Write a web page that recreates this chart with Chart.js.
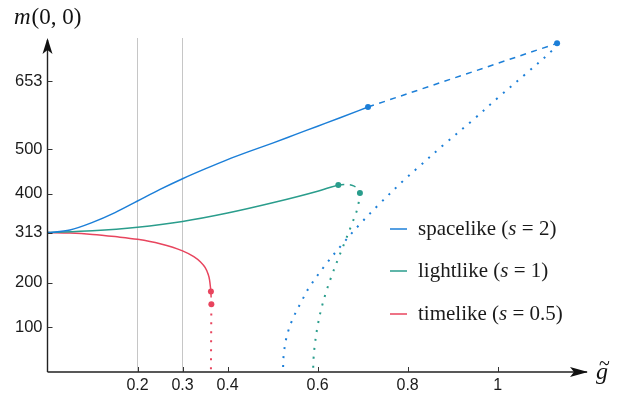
<!DOCTYPE html>
<html>
<head>
<meta charset="utf-8">
<script src="https://cdn.jsdelivr.net/npm/chart.js@4.4.1/dist/chart.umd.min.js"></script>
<style>
  html, body { margin: 0; padding: 0; background: #fff; }
  #wrap { width: 624px; height: 401px; }
</style>
</head>
<body>
<div id="wrap"><canvas id="massChart" width="624" height="401"></canvas></div>
<script>
/* ====== DATA ====== */
const xTicks = [0.2, 0.3, 0.4, 0.6, 0.8, 1];
const yTicks = [100, 200, 313, 400, 500, 653];
const gridAt = [0.2, 0.3];

// spacelike (s = 2)
const spaceSolidX  = [0, 0.05, 0.1, 0.15, 0.2, 0.25, 0.3, 0.35, 0.4, 0.45, 0.5, 0.55, 0.6, 0.65, 0.712];
const spaceSolidY  = [313, 319, 336, 358, 384, 410, 434, 456, 477, 496, 514, 533, 552, 571, 595];
const spaceDashX   = [0.712, 1.132];
const spaceDashY   = [595, 738];
const spaceDotX    = [1.132, 1.122, 1.063, 1.003, 0.943, 0.882, 0.823, 0.794, 0.736, 0.694, 0.655, 0.617, 0.582, 0.563, 0.545, 0.532, 0.525, 0.523];
const spaceDotY    = [738, 723, 670, 618, 564, 512, 459, 433, 376, 332, 287, 240, 191, 156, 120, 82, 42, 0];

// lightlike (s = 1)
const lightSolidX  = [0, 0.1, 0.2, 0.3, 0.4, 0.5, 0.6, 0.646];
const lightSolidY  = [313, 317, 325, 338, 357, 380, 406, 420];
const lightDashX   = [0.646, 0.665, 0.68, 0.69, 0.694];
const lightDashY   = [420, 421, 418, 411, 402];
const lightDotX    = [0.694, 0.689, 0.676, 0.661, 0.646, 0.632, 0.619, 0.608, 0.6, 0.594, 0.591, 0.59];
const lightDotY    = [402, 369, 332, 293, 255, 218, 180, 141, 103, 63, 30, 0];

// timelike (s = 0.5)
const timeSolidX   = [0, 0.05, 0.1, 0.15, 0.2, 0.25, 0.3, 0.325, 0.34, 0.35, 0.356, 0.36, 0.363];
const timeSolidY   = [313, 312, 309, 304, 298, 288, 272, 259, 247, 235, 222, 207, 181];
const timeDashX    = [0.363, 0.364];
const timeDashY    = [181, 152];
const timeDotX     = [0.364, 0.363];
const timeDotY     = [152, 0];

// end-point markers
const spaceMarkX = [0.712, 1.132], spaceMarkY = [595, 738];
const lightMarkX = [0.646, 0.694], lightMarkY = [420, 402];
const timeMarkX  = [0.363, 0.364], timeMarkY  = [181, 152];

const legendLabels = [
    ["spacelike (", "s", " = 2)"],
    ["lightlike (", "s", " = 1)"],
    ["timelike (", "s", " = 0.5)"]
];

/* ====== STYLE ====== */
const BLUE = "#1c7fd8";
const TEAL = "#2a9d8c";
const RED  = "#e8455e";
const DASH = [6, 5.5];
const DOTS = [2, 7];

function pts(xs, ys) {
    return xs.map((x, i) => ({ x: x, y: ys[i] }));
}

function curve(xs, ys, color, dash) {
    const ds = {
        data: pts(xs, ys),
        showLine: true,
        borderColor: color,
        backgroundColor: color,
        borderWidth: dash === DOTS ? 2 : 1.5,
        borderDash: dash || [],
        pointRadius: 0,
        tension: 0.35
    };
    if (!dash) ds.cubicInterpolationMode = "monotone";
    return ds;
}

function marks(xs, ys, color) {
    return {
        data: pts(xs, ys),
        showLine: false,
        pointRadius: 3,
        pointBackgroundColor: color,
        pointBorderWidth: 0
    };
}

/* ====== DECORATIONS: arrows, inward ticks, titles, legend ====== */
const decor = {
    id: "decor",
    afterDatasetsDraw(chart) {
        const c = chart.ctx;
        const a = chart.chartArea;
        const sx = chart.scales.x, sy = chart.scales.y;
        const ox = a.left, oy = a.bottom;
        c.save();

        // axis lines
        c.strokeStyle = "#222";
        c.lineWidth = 1.4;
        c.beginPath();
        c.moveTo(ox, oy); c.lineTo(a.right + 2, oy);
        c.moveTo(ox, oy); c.lineTo(ox, a.top + 2);
        c.stroke();

        // arrow heads (stealth)
        c.fillStyle = "#111";
        const tx = a.right + 3;
        c.beginPath();
        c.moveTo(tx, oy); c.lineTo(tx - 18, oy - 5); c.lineTo(tx - 14, oy); c.lineTo(tx - 18, oy + 5);
        c.closePath(); c.fill();
        const ty = a.top;
        c.beginPath();
        c.moveTo(ox, ty); c.lineTo(ox - 5, ty + 16); c.lineTo(ox, ty + 12); c.lineTo(ox + 5, ty + 16);
        c.closePath(); c.fill();

        // inward tick marks
        c.strokeStyle = "#333";
        c.lineWidth = 1;
        c.beginPath();
        xTicks.forEach(v => {
            const px = Math.round(sx.getPixelForValue(v)) + 0.5;
            c.moveTo(px, oy); c.lineTo(px, oy - 5);
        });
        yTicks.forEach(v => {
            const py = Math.round(sy.getPixelForValue(v)) + 0.5;
            c.moveTo(ox, py); c.lineTo(ox + 5, py);
        });
        c.stroke();

        // axis titles
        c.fillStyle = "#111";
        c.textBaseline = "alphabetic";
        c.textAlign = "left";
        let x = 14;
        c.font = 'italic 23px "Liberation Serif"';
        c.fillText("m", x, 24);
        x += c.measureText("m").width + 1;
        c.font = '23px "Liberation Serif"';
        c.fillText("(0, 0)", x, 24);

        c.font = 'italic 24px "Liberation Serif"';
        c.fillText("g", 596, 379);
        c.font = '20px "Liberation Serif"';
        c.fillText("~", 599, 370);

        // legend
        const colors = [BLUE, TEAL, RED];
        const rows = [229, 271, 314];
        legendLabels.forEach((parts, i) => {
            const y = rows[i];
            c.strokeStyle = colors[i];
            c.lineWidth = 1.5;
            c.beginPath();
            c.moveTo(390, y); c.lineTo(407, y);
            c.stroke();
            let lx = 418;
            c.fillStyle = "#1a1a1a";
            parts.forEach((p, k) => {
                c.font = (k === 1 ? "italic " : "") + '21px "Liberation Serif"';
                c.fillText(p, lx, y + 6);
                lx += c.measureText(p).width;
            });
        });

        c.restore();
    }
};

/* ====== CHART ====== */
window.onload = function () {
    const ctx = document.getElementById("massChart");
    new Chart(ctx, {
        type: "scatter",
        data: {
            datasets: [
                curve(spaceSolidX, spaceSolidY, BLUE),
                curve(spaceDashX, spaceDashY, BLUE, DASH),
                curve(spaceDotX, spaceDotY, BLUE, DOTS),
                curve(lightSolidX, lightSolidY, TEAL),
                curve(lightDashX, lightDashY, TEAL, DASH),
                curve(lightDotX, lightDotY, TEAL, DOTS),
                curve(timeSolidX, timeSolidY, RED),
                curve(timeDashX, timeDashY, RED, DASH),
                curve(timeDotX, timeDotY, RED, DOTS),
                marks(spaceMarkX, spaceMarkY, BLUE),
                marks(lightMarkX, lightMarkY, TEAL),
                marks(timeMarkX, timeMarkY, RED)
            ]
        },
        options: {
            responsive: false,
            animation: false,
            devicePixelRatio: 1,
            layout: { padding: { top: 38, right: 39, left: 0, bottom: 0 } },
            plugins: {
                legend: { display: false },
                tooltip: { enabled: false }
            },
            scales: {
                x: {
                    type: "linear",
                    min: 0,
                    max: 1.194,
                    afterBuildTicks: s => { s.ticks = xTicks.map(v => ({ value: v })); },
                    afterFit: s => { s.height = 29; },
                    border: { display: false },
                    grid: {
                        drawTicks: false,
                        lineWidth: 1,
                        color: c => (c.tick && gridAt.includes(c.tick.value)) ? "#c6c6c6" : "rgba(0,0,0,0)"
                    },
                    ticks: {
                        autoSkip: false,
                        maxRotation: 0,
                        padding: 4,
                        color: "#1a1a1a",
                        font: { family: "Liberation Sans", size: 16 },
                        callback: v => String(v)
                    }
                },
                y: {
                    type: "linear",
                    min: 0,
                    max: 750,
                    afterBuildTicks: s => { s.ticks = yTicks.map(v => ({ value: v })); },
                    afterFit: s => { s.width = 47.5; },
                    border: { display: false },
                    grid: { display: false, drawTicks: false },
                    ticks: {
                        autoSkip: false,
                        padding: 5,
                        color: "#1a1a1a",
                        font: { family: "Liberation Sans", size: 16.5 },
                        callback: v => String(v)
                    }
                }
            }
        },
        plugins: [decor]
    });
};
</script>
</body>
</html>
